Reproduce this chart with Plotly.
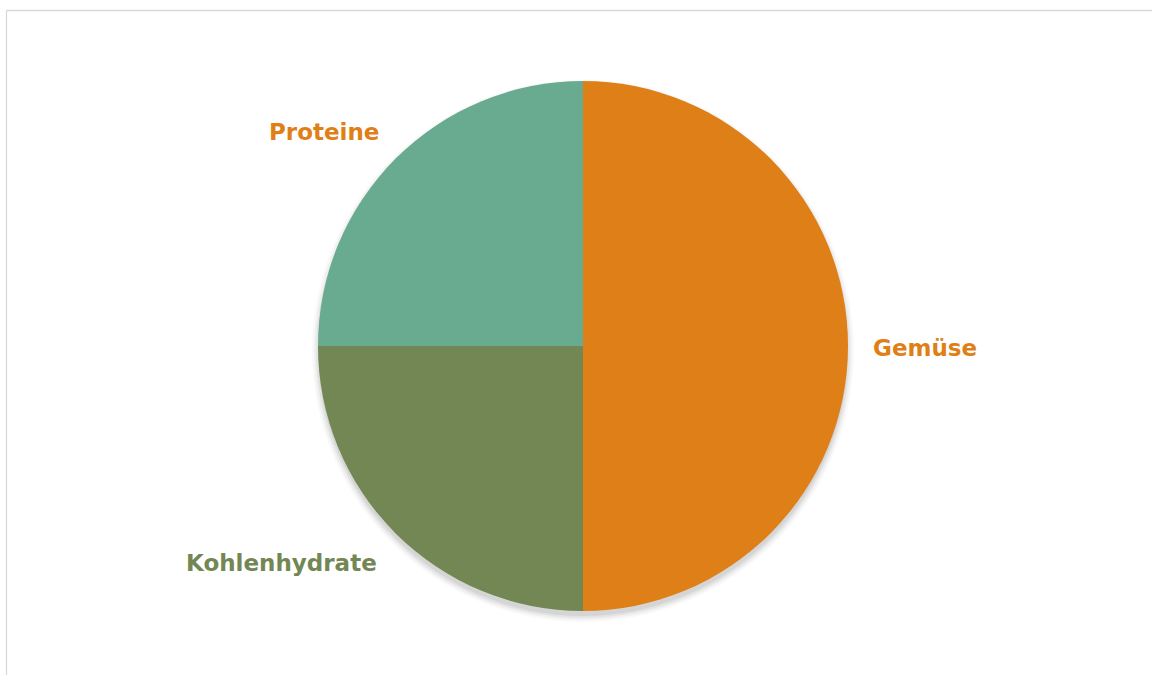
import plotly.graph_objects as go

categories = ["Gemüse", "Kohlenhydrate", "Proteine"]
values = [50, 25, 25]
slice_colors = ["#DF7F18", "#728753", "#69AB90"]
label_colors = ["#DF7F18", "#728753", "#DF7F18"]
# label anchor positions (paper coords)
label_pos = [(925 / 1152, 1 - 348 / 675), (281 / 1152, 1 - 563 / 675), (324 / 1152, 1 - 132 / 675)]

W, H = 1152, 675
cx, cy, r = 583, 346, 265

fig = go.Figure()
fig.add_trace(go.Pie(
    labels=categories, values=values, sort=False, direction="clockwise", rotation=0,
    marker=dict(colors=slice_colors, line=dict(width=0)),
    textinfo="none", hoverinfo="label+percent", showlegend=False,
    domain=dict(x=[(cx - r) / W, (cx + r) / W], y=[(H - cy - r) / H, (H - cy + r) / H]),
))

shapes = []
# soft shadow
for i, (dr, a) in enumerate([(6, 0.025), (4, 0.035), (2, 0.05), (0, 0.06)]):
    oy = 5
    shapes.append(dict(type="circle", xref="paper", yref="paper", layer="below",
                       x0=(cx - r - dr) / W, x1=(cx + r + dr) / W,
                       y0=(H - cy - oy - r - dr) / H, y1=(H - cy - oy + r + dr) / H,
                       fillcolor=f"rgba(0,0,0,{a})", line=dict(width=0)))
# chart border
shapes.append(dict(type="line", xref="paper", yref="paper", x0=6.5 / W, x1=1.0, y0=1 - 10.5 / H, y1=1 - 10.5 / H,
                   line=dict(color="#D9D9D9", width=1.3)))
shapes.append(dict(type="line", xref="paper", yref="paper", x0=6.5 / W, x1=6.5 / W, y0=0, y1=1 - 10.5 / H,
                   line=dict(color="#D9D9D9", width=1.3)))

annotations = []
for cat, col, (x, y) in zip(categories, label_colors, label_pos):
    annotations.append(dict(text=f"<b>{cat}</b>", x=x, y=y, xref="paper", yref="paper",
                            showarrow=False, xanchor="center", yanchor="middle",
                            font=dict(family="DejaVu Sans, sans-serif", size=23, color=col)))

fig.update_layout(
    width=W, height=H, margin=dict(l=0, r=0, t=0, b=0),
    paper_bgcolor="white", plot_bgcolor="white",
    shapes=shapes, annotations=annotations,
)
fig.write_html("out.html")
